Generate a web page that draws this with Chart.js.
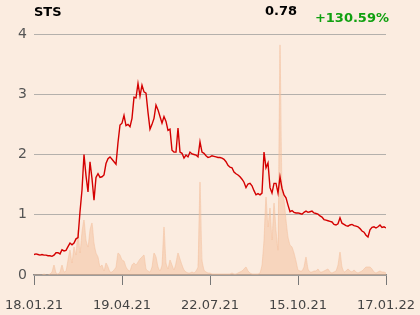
<!DOCTYPE html>
<html>
<head>
<meta charset="utf-8">
<script src="https://cdn.jsdelivr.net/npm/chart.js@4.4.0/dist/chart.umd.min.js"></script>
<style>
  html, body { margin: 0; padding: 0; background: #fbece0; }
  #wrap { position: relative; width: 420px; height: 315px; font-family: "DejaVu Sans", sans-serif; }
  #wrap canvas { position: absolute; left: 0; top: 0; }
  .t { position: absolute; font-weight: bold; font-size: 13px; line-height: 1; white-space: nowrap; }
  #name { left: 34px; top: 5px; color: #000; }
  #last { right: 123px; top: 4px; color: #000; }
  #chg { right: 31px; top: 11px; color: #10a010; }
</style>
</head>
<body>
<div id="wrap">
  <canvas id="myChart" width="420" height="315"></canvas>
  <div class="t" id="name">STS</div>
  <div class="t" id="last">0.78</div>
  <div class="t" id="chg">+130.59%</div>
</div>
<script>
// tick labels on the time axis (index positions in the series)
const tickLabels = ['18.01.21', '19.04.21', '22.07.21', '15.10.21', '17.01.22'];
const tickIndex = [0, 44, 88, 132, 176];

// closing price
const price = [
  0.34,0.35,0.34,0.33,0.34,0.33,0.33,0.32,0.32,0.31,
  0.33,0.37,0.37,0.35,0.42,0.40,0.41,0.47,0.53,0.50,
  0.53,0.60,0.62,1.05,1.41,2.00,1.65,1.38,1.88,1.60,
  1.24,1.62,1.68,1.62,1.63,1.66,1.85,1.93,1.96,1.92,
  1.88,1.84,2.20,2.49,2.52,2.65,2.48,2.50,2.46,2.60,
  2.95,2.94,3.18,2.97,3.15,3.04,3.02,2.70,2.42,2.50,
  2.60,2.82,2.74,2.63,2.52,2.63,2.55,2.40,2.42,2.07,
  2.04,2.04,2.44,2.04,2.02,1.94,1.99,1.96,2.04,2.01,
  2.00,1.99,1.96,2.21,2.04,2.02,1.98,1.95,1.96,1.98,
  1.97,1.96,1.95,1.95,1.94,1.92,1.88,1.82,1.79,1.78,
  1.71,1.68,1.66,1.63,1.59,1.54,1.45,1.51,1.52,1.48,
  1.40,1.33,1.35,1.33,1.36,2.04,1.78,1.86,1.45,1.36,
  1.52,1.52,1.36,1.63,1.44,1.33,1.28,1.16,1.05,1.07,
  1.04,1.03,1.03,1.02,1.01,1.04,1.06,1.04,1.05,1.06,
  1.03,1.02,1.01,0.98,0.96,0.92,0.91,0.90,0.89,0.88,
  0.84,0.83,0.85,0.95,0.86,0.84,0.82,0.81,0.83,0.84,
  0.82,0.81,0.80,0.77,0.73,0.71,0.66,0.63,0.75,0.79,
  0.80,0.78,0.80,0.83,0.79,0.80,0.78
];

// traded volume (relative units)
const volume = [
  0,0,0,0,0,1,0,0,1,3,
  10,2,1,3,10,3,4,15,25,12,
  28,20,45,22,43,55,35,28,45,52,
  32,22,18,8,10,4,12,8,3,3,
  5,8,22,20,15,14,8,5,4,10,
  12,10,13,16,18,20,6,4,3,8,
  22,18,8,4,10,48,12,6,15,10,
  5,12,22,16,10,5,3,2,2,3,
  2,4,8,93,15,5,3,2,2,1,
  1,1,1,1,1,1,1,1,1,2,
  1,1,2,3,4,6,8,4,2,1,
  1,1,1,2,10,35,78,48,67,35,
  72,45,25,230,85,75,55,38,30,28,
  22,14,5,4,4,8,18,6,3,3,
  4,4,6,3,3,4,5,6,3,2,
  3,4,10,23,8,3,4,6,4,3,
  5,3,2,3,4,6,8,8,8,6,
  3,2,3,4,3,3,2
];

const pricePts = price.map((v, i) => ({x: i, y: v}));
const volPts = volume.map((v, i) => ({x: i, y: v}));

var ctx = document.getElementById('myChart').getContext('2d');
var chart = new Chart(ctx, {
    type: 'line',
    data: {
        datasets: [{
            label: 'STS',
            data: pricePts,
            yAxisID: 'y',
            borderColor: '#d40000',
            borderWidth: 1.4,
            pointRadius: 0,
            tension: 0,
            fill: false,
            order: 1
        }, {
            label: 'Volume',
            data: volPts,
            yAxisID: 'vol',
            borderColor: 'rgba(243,190,154,0.5)',
            borderWidth: 1,
            backgroundColor: 'rgba(243,190,154,0.5)',
            pointRadius: 0,
            tension: 0.15,
            fill: 'origin',
            order: 2
        }]
    },
    options: {
        responsive: false,
        animation: false,
        layout: { padding: { top: 34, right: 34, left: 0, bottom: 0 } },
        plugins: { legend: { display: false }, tooltip: { enabled: false } },
        scales: {
            x: {
                type: 'linear',
                min: 0,
                max: price.length - 1,
                afterBuildTicks: (scale) => { scale.ticks = tickIndex.map(v => ({value: v})); },
                afterFit: (scale) => { scale.height = 40; },
                ticks: {
                    autoSkip: false,
                    maxRotation: 0,
                    padding: 4,
                    color: '#444',
                    font: { family: 'DejaVu Sans', size: 13, lineHeight: 2.55 },
                    callback: (v) => tickLabels[tickIndex.indexOf(v)]
                },
                grid: { drawOnChartArea: false, drawTicks: true, tickLength: 10, color: '#777', lineWidth: 1 },
                border: { display: true, color: '#888', width: 1.5 }
            },
            y: {
                min: 0,
                max: 4,
                afterFit: (scale) => { scale.width = 34; },
                ticks: {
                    stepSize: 1,
                    padding: 7,
                    color: '#555',
                    font: { family: 'DejaVu Sans', size: 14 }
                },
                grid: { color: '#b4b0ac', lineWidth: 1, drawTicks: false },
                border: { display: false }
            },
            vol: {
                display: false,
                min: 0,
                max: 241
            }
        }
    }
});
</script>
</body>
</html>
